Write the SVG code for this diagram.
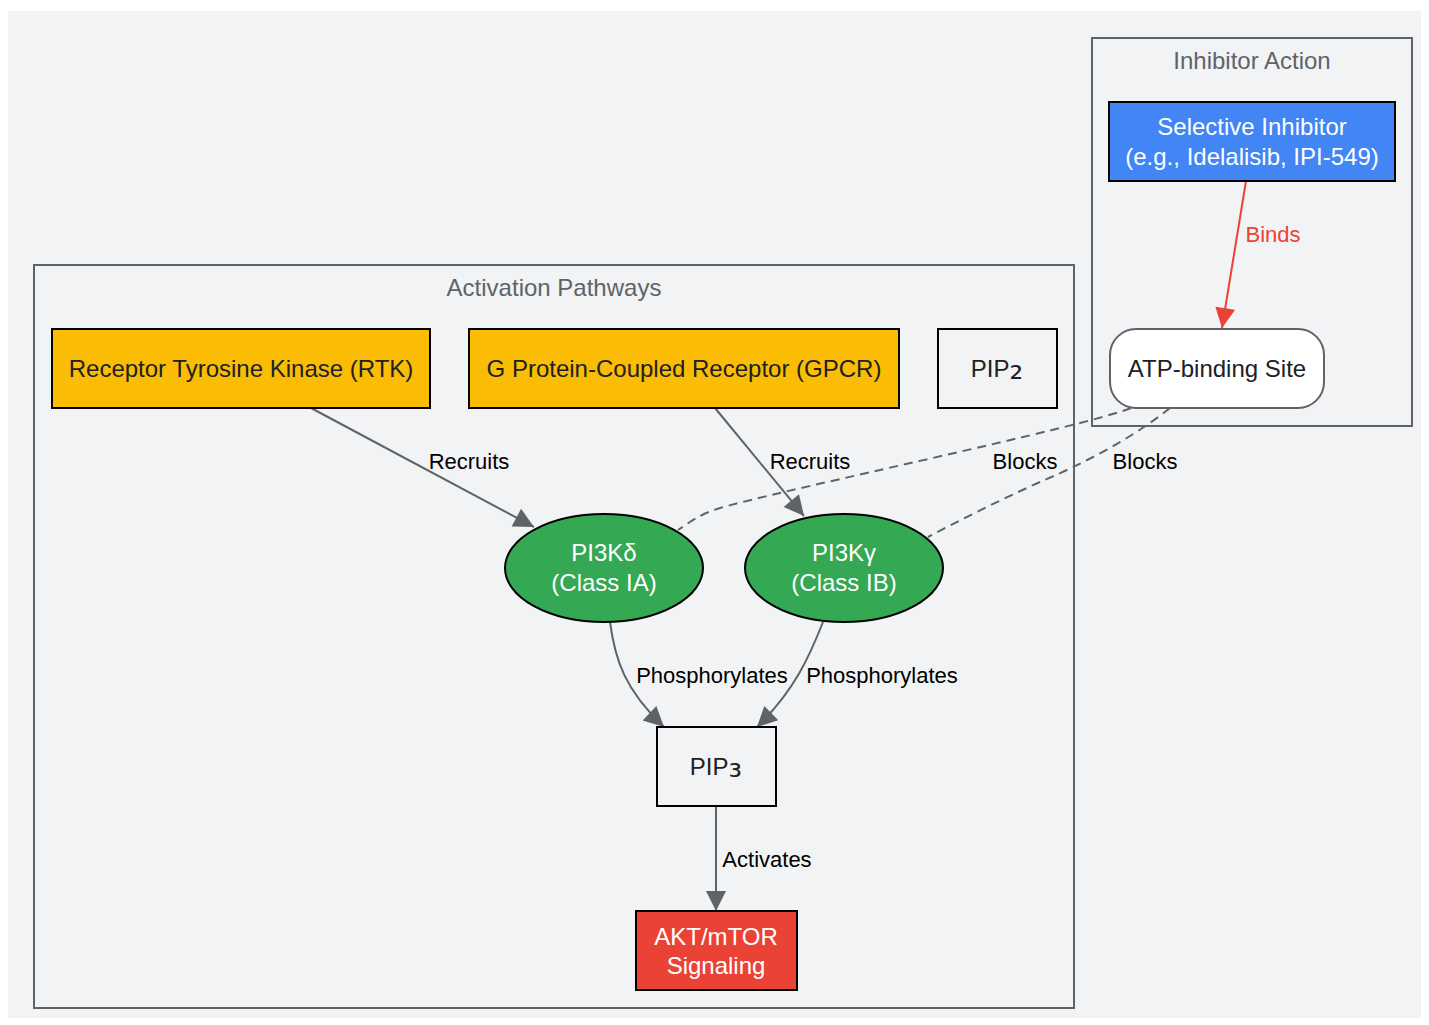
<svg xmlns="http://www.w3.org/2000/svg" width="1429" height="1025" viewBox="0 0 1429 1025">
<style>
text{font-family:"Liberation Sans",Arial,sans-serif;font-size:22px;text-anchor:middle}
.title{font-size:24px;fill:#5f6368}
.cluster{fill:none;stroke:#5f6368;stroke-width:2}
.box{stroke:#000;stroke-width:2}
.dark{fill:#202124;font-size:24px}
.light{fill:#fff;font-size:24px}
.sub{font-family:"DejaVu Sans",sans-serif;font-size:34px}
.edge{fill:none;stroke:#5f6368;stroke-width:2}
.dash{stroke-dasharray:9,6}
.lbl{fill:#000}
</style>
<defs>
<marker id="ah" viewBox="0 0 10 10" refX="10" refY="5" markerWidth="24" markerHeight="20" markerUnits="userSpaceOnUse" orient="auto"><path d="M0,0 L10,5 L0,10 z" fill="#5f6368"/></marker>
<marker id="ahr" viewBox="0 0 10 10" refX="10" refY="5" markerWidth="24" markerHeight="20" markerUnits="userSpaceOnUse" orient="auto"><path d="M0,0 L10,5 L0,10 z" fill="#ea4335"/></marker>
</defs>
<rect x="0" y="0" width="1429" height="1025" fill="#fff"/>
<rect x="8" y="11" width="1413" height="1007" fill="#f1f3f4"/>
<g id="cluster_activation">
<rect class="cluster" x="34" y="265" width="1040" height="743"/>
<text class="title" x="554" y="296">Activation Pathways</text>
</g>
<g id="cluster_inhibitor">
<rect class="cluster" x="1092" y="38" width="320" height="388"/>
<text class="title" x="1252" y="69">Inhibitor Action</text>
</g>
<g id="connectors">
<path class="edge" d="M311,408 L534,527" marker-end="url(#ah)"/>
<text class="lbl" x="469" y="469">Recruits</text>
<path class="edge" d="M715,408 L804,516" marker-end="url(#ah)"/>
<text class="lbl" x="810" y="469">Recruits</text>
<path class="edge" d="M1246,181 L1222,328" style="stroke:#ea4335" marker-end="url(#ahr)"/>
<text x="1273" y="242" fill="#ea4335">Binds</text>
<path class="edge dash" d="M1131,408 C1080,428 790,488 720,508 C700,514 690,522 678,530"/>
<text class="lbl" x="1025" y="469">Blocks</text>
<path class="edge dash" d="M1170,408 C1130,440 1080,465 1040,482 C1000,500 960,520 928,537"/>
<text class="lbl" x="1145" y="469">Blocks</text>
<path class="edge" d="M610,622 C615,660 625,690 664,727" marker-end="url(#ah)"/>
<text class="lbl" x="712" y="683">Phosphorylates</text>
<path class="edge" d="M823,622 C810,655 795,690 757,727" marker-end="url(#ah)"/>
<text class="lbl" x="882" y="683">Phosphorylates</text>
<path class="edge" d="M716,806 L716,911" marker-end="url(#ah)"/>
<text class="lbl" x="767" y="867">Activates</text>
</g>
<g id="inhibitor">
<rect class="box" x="1109" y="102" width="286" height="79" fill="#4285f4"/>
<text class="light" x="1252" y="135">Selective Inhibitor</text>
<text class="light" x="1252" y="165">(e.g., Idelalisib, IPI-549)</text>
</g>
<g id="atp_site">
<rect x="1110" y="329" width="214" height="79" rx="26" fill="#fff" stroke="#5f6368" stroke-width="2"/>
<text class="dark" x="1217" y="377">ATP-binding Site</text>
</g>
<g id="rtk">
<rect class="box" x="52" y="329" width="378" height="79" fill="#fbbc04"/>
<text class="dark" x="241" y="377">Receptor Tyrosine Kinase (RTK)</text>
</g>
<g id="gpcr">
<rect class="box" x="469" y="329" width="430" height="79" fill="#fbbc04"/>
<text class="dark" x="684" y="377">G Protein-Coupled Receptor (GPCR)</text>
</g>
<g id="pip2">
<rect class="box" x="938" y="329" width="119" height="79" fill="#f1f3f4"/>
<text class="dark" x="997" y="377">PIP<tspan class="sub" dy="2">₂</tspan></text>
</g>
<g id="pi3kd">
<ellipse class="box" cx="604" cy="568" rx="99" ry="54" fill="#34a853"/>
<text class="light" x="604" y="561">PI3Kδ</text>
<text class="light" x="604" y="591">(Class IA)</text>
</g>
<g id="pi3kg">
<ellipse class="box" cx="844" cy="568" rx="99" ry="54" fill="#34a853"/>
<text class="light" x="844" y="561">PI3Kγ</text>
<text class="light" x="844" y="591">(Class IB)</text>
</g>
<g id="pip3">
<rect class="box" x="657" y="727" width="119" height="79" fill="#f1f3f4"/>
<text class="dark" x="716" y="775">PIP<tspan class="sub" dy="2">₃</tspan></text>
</g>
<g id="akt">
<rect class="box" x="636" y="911" width="161" height="79" fill="#ea4335"/>
<text class="light" x="716" y="945">AKT/mTOR</text>
<text class="light" x="716" y="974">Signaling</text>
</g>
</svg>
